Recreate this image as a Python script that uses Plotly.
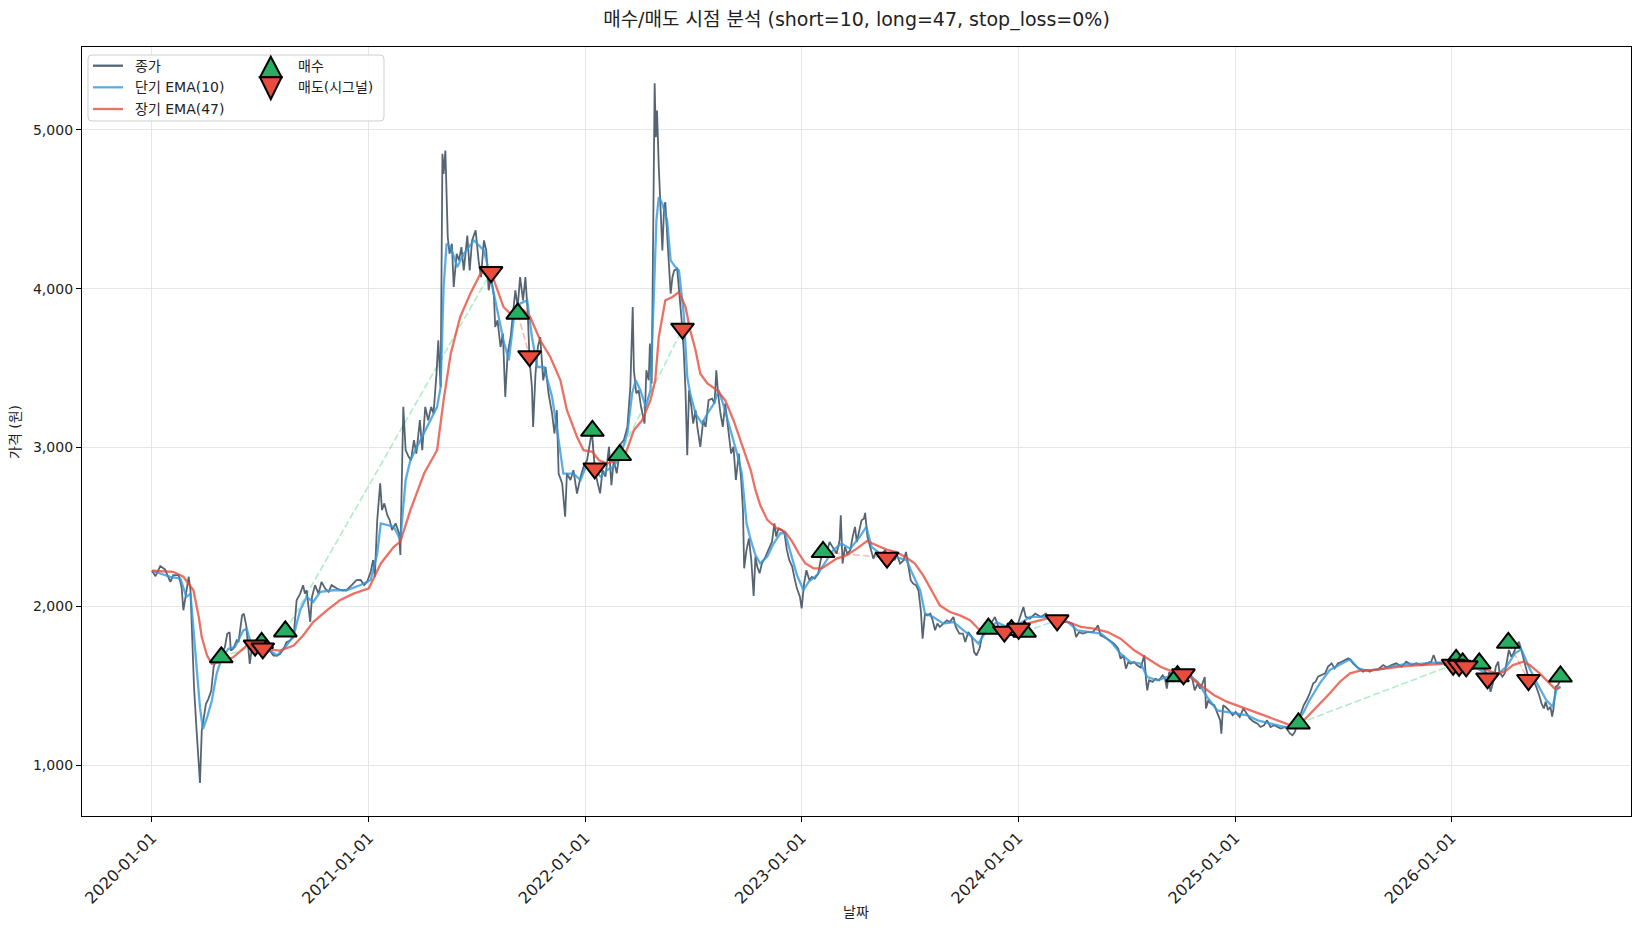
import plotly.graph_objects as go

FONT = "DejaVu Sans, Noto Sans CJK KR, sans-serif"

# ---------------- data ----------------
close_dates = [
    "2020-01-01", "2020-01-07", "2020-01-15", "2020-01-23",
    "2020-02-01", "2020-02-06", "2020-02-15", "2020-02-20", "2020-02-23", "2020-02-28",
    "2020-03-03", "2020-03-06", "2020-03-08", "2020-03-12", "2020-03-16", "2020-03-18", "2020-03-20", "2020-03-22", "2020-03-25", "2020-03-28",
    "2020-04-01", "2020-04-05", "2020-04-10", "2020-04-14", "2020-04-18", "2020-04-25",
    "2020-05-03", "2020-05-07", "2020-05-11", "2020-05-13", "2020-05-17", "2020-05-23", "2020-05-26",
    "2020-06-01", "2020-06-04", "2020-06-08", "2020-06-10", "2020-06-14", "2020-06-17", "2020-06-23",
    "2020-07-01", "2020-07-10", "2020-07-18", "2020-07-24", "2020-07-30",
    "2020-08-04", "2020-08-10", "2020-08-15", "2020-08-21", "2020-08-27",
    "2020-09-01", "2020-09-07", "2020-09-12", "2020-09-15", "2020-09-18", "2020-09-24", "2020-09-27",
    "2020-10-02", "2020-10-08", "2020-10-13", "2020-10-19", "2020-10-25", "2020-10-30",
    "2020-11-08", "2020-11-16", "2020-11-24",
    "2020-12-03", "2020-12-11", "2020-12-18", "2020-12-24", "2020-12-29",
    "2021-01-04", "2021-01-08", "2021-01-11", "2021-01-15", "2021-01-20", "2021-01-23", "2021-01-27",
    "2021-02-01", "2021-02-05", "2021-02-09", "2021-02-15", "2021-02-21", "2021-02-23", "2021-02-28",
    "2021-03-04", "2021-03-09", "2021-03-13", "2021-03-18", "2021-03-22", "2021-03-28",
    "2021-04-01", "2021-04-06", "2021-04-11", "2021-04-16", "2021-04-20", "2021-04-25", "2021-04-28",
    "2021-05-02", "2021-05-05", "2021-05-07", "2021-05-10", "2021-05-14", "2021-05-17", "2021-05-21", "2021-05-24", "2021-05-29",
    "2021-06-02", "2021-06-06", "2021-06-10", "2021-06-16", "2021-06-20", "2021-06-24", "2021-06-30",
    "2021-07-05", "2021-07-09", "2021-07-14", "2021-07-18", "2021-07-22", "2021-07-26", "2021-07-31",
    "2021-08-02", "2021-08-06", "2021-08-11", "2021-08-15", "2021-08-19", "2021-08-23", "2021-08-28",
    "2021-09-01", "2021-09-05", "2021-09-09", "2021-09-13", "2021-09-18", "2021-09-22", "2021-09-26", "2021-09-29",
    "2021-10-03", "2021-10-05", "2021-10-09", "2021-10-13", "2021-10-17", "2021-10-22", "2021-10-26", "2021-10-31",
    "2021-11-06", "2021-11-10", "2021-11-14", "2021-11-17", "2021-11-23", "2021-11-28",
    "2021-12-01", "2021-12-07", "2021-12-12", "2021-12-18", "2021-12-24", "2021-12-29",
    "2022-01-04", "2022-01-12", "2022-01-15", "2022-01-18", "2022-01-26", "2022-01-30",
    "2022-02-04", "2022-02-10", "2022-02-14", "2022-02-18", "2022-02-23",
    "2022-03-02", "2022-03-07", "2022-03-13", "2022-03-18", "2022-03-22", "2022-03-24", "2022-03-28",
    "2022-04-01", "2022-04-05", "2022-04-11", "2022-04-14", "2022-04-18", "2022-04-20", "2022-04-23", "2022-04-26", "2022-04-28", "2022-04-30",
    "2022-05-02", "2022-05-05", "2022-05-08", "2022-05-11", "2022-05-14", "2022-05-16", "2022-05-19", "2022-05-22", "2022-05-25", "2022-05-28", "2022-05-31",
    "2022-06-05", "2022-06-09", "2022-06-13", "2022-06-16", "2022-06-19", "2022-06-22", "2022-06-25", "2022-06-29",
    "2022-07-02", "2022-07-06", "2022-07-09", "2022-07-14", "2022-07-19", "2022-07-23", "2022-07-28",
    "2022-08-03", "2022-08-07", "2022-08-10", "2022-08-13", "2022-08-17", "2022-08-21", "2022-08-25", "2022-08-31",
    "2022-09-04", "2022-09-08", "2022-09-12", "2022-09-17", "2022-09-21", "2022-09-24", "2022-09-26", "2022-09-30",
    "2022-10-04", "2022-10-08", "2022-10-12", "2022-10-15", "2022-10-18", "2022-10-22", "2022-10-26",
    "2022-11-01", "2022-11-06", "2022-11-12", "2022-11-16", "2022-11-19", "2022-11-23", "2022-11-29",
    "2022-12-03", "2022-12-07", "2022-12-11", "2022-12-16", "2022-12-20", "2022-12-24", "2022-12-29",
    "2023-01-01", "2023-01-05", "2023-01-09", "2023-01-14", "2023-01-18", "2023-01-23", "2023-01-29",
    "2023-02-02", "2023-02-07", "2023-02-12", "2023-02-17", "2023-02-22",
    "2023-03-01", "2023-03-06", "2023-03-08", "2023-03-11", "2023-03-15", "2023-03-19", "2023-03-24", "2023-03-28",
    "2023-04-01", "2023-04-04", "2023-04-08", "2023-04-12", "2023-04-16", "2023-04-18", "2023-04-22", "2023-04-26",
    "2023-05-02", "2023-05-06", "2023-05-10", "2023-05-16", "2023-05-22", "2023-05-27",
    "2023-06-02", "2023-06-07", "2023-06-10", "2023-06-16", "2023-06-22", "2023-06-26", "2023-06-30",
    "2023-07-04", "2023-07-08", "2023-07-13", "2023-07-17", "2023-07-21", "2023-07-24", "2023-07-28",
    "2023-08-01", "2023-08-06", "2023-08-10", "2023-08-14", "2023-08-18", "2023-08-22", "2023-08-28",
    "2023-09-03", "2023-09-08", "2023-09-14", "2023-09-18", "2023-09-24", "2023-09-30",
    "2023-10-04", "2023-10-09", "2023-10-15", "2023-10-19", "2023-10-23", "2023-10-28",
    "2023-11-01", "2023-11-06", "2023-11-12", "2023-11-18", "2023-11-23", "2023-11-29",
    "2023-12-04", "2023-12-13", "2023-12-18", "2023-12-24", "2023-12-30",
    "2024-01-10", "2024-01-14", "2024-01-21", "2024-01-30",
    "2024-02-09", "2024-02-17", "2024-02-23",
    "2024-03-02", "2024-03-13", "2024-03-25",
    "2024-04-02", "2024-04-05", "2024-04-08", "2024-04-13", "2024-04-19", "2024-04-27",
    "2024-05-06", "2024-05-11", "2024-05-15", "2024-05-19", "2024-05-25",
    "2024-06-03", "2024-06-11", "2024-06-18", "2024-06-22", "2024-06-27",
    "2024-07-01", "2024-07-05", "2024-07-09", "2024-07-15", "2024-07-20", "2024-07-26",
    "2024-08-01", "2024-08-04", "2024-08-06", "2024-08-09", "2024-08-15", "2024-08-20", "2024-08-26",
    "2024-09-01", "2024-09-05", "2024-09-08", "2024-09-12", "2024-09-17", "2024-09-23",
    "2024-10-01", "2024-10-08", "2024-10-16", "2024-10-21", "2024-10-25", "2024-10-30",
    "2024-11-03", "2024-11-07", "2024-11-11", "2024-11-13", "2024-11-17", "2024-11-21", "2024-11-27",
    "2024-12-02", "2024-12-07", "2024-12-09", "2024-12-12", "2024-12-16", "2024-12-22", "2024-12-28",
    "2025-01-02", "2025-01-09", "2025-01-15", "2025-01-21", "2025-01-26",
    "2025-02-02", "2025-02-08", "2025-02-13", "2025-02-19", "2025-02-24",
    "2025-03-02", "2025-03-08", "2025-03-13", "2025-03-19", "2025-03-27",
    "2025-04-04", "2025-04-08", "2025-04-12", "2025-04-16", "2025-04-22", "2025-04-27",
    "2025-05-02", "2025-05-07", "2025-05-13", "2025-05-17", "2025-05-21", "2025-05-27",
    "2025-06-02", "2025-06-07", "2025-06-13", "2025-06-18", "2025-06-24", "2025-06-30",
    "2025-07-05", "2025-07-11", "2025-07-15", "2025-07-19", "2025-07-25", "2025-07-31",
    "2025-08-05", "2025-08-11", "2025-08-16", "2025-08-22", "2025-08-30",
    "2025-09-08", "2025-09-14", "2025-09-22", "2025-09-30",
    "2025-10-09", "2025-10-17", "2025-10-26",
    "2025-11-03", "2025-11-11", "2025-11-20", "2025-11-28",
    "2025-12-02", "2025-12-07", "2025-12-12", "2025-12-21", "2025-12-29",
    "2026-01-07", "2026-01-15", "2026-01-23",
    "2026-02-01", "2026-02-09", "2026-02-18", "2026-02-26",
    "2026-03-04", "2026-03-08", "2026-03-12", "2026-03-17", "2026-03-21", "2026-03-23", "2026-03-28",
    "2026-04-01", "2026-04-05", "2026-04-08", "2026-04-12", "2026-04-16", "2026-04-20", "2026-04-25", "2026-04-29",
    "2026-05-03", "2026-05-07", "2026-05-12", "2026-05-16", "2026-05-20", "2026-05-24", "2026-05-29",
    "2026-06-02", "2026-06-06", "2026-06-09", "2026-06-13", "2026-06-17", "2026-06-20", "2026-06-22", "2026-06-26", "2026-06-30",
    "2026-07-04",
]
close_values = [
    2224, 2190, 2253, 2232,
    2154, 2196, 2196, 2122, 1975, 2080,
    2186, 2101, 1869, 1489, 1236, 1110, 1025, 888, 1215, 1300,
    1384, 1416, 1468, 1616, 1669, 1679,
    1743, 1827, 1837, 1721, 1732, 1785, 1774,
    1943, 1954, 1880, 1785, 1637, 1721, 1753,
    1721, 1700, 1721, 1690, 1690,
    1700, 1732, 1774, 1785, 1806,
    2038, 2080, 2133, 2080, 2101, 1901, 2059,
    2133, 2080, 2154, 2112, 2091, 2133,
    2112, 2101, 2101,
    2133, 2165, 2166, 2134, 2155,
    2218, 2291, 2187, 2543, 2774, 2606, 2648,
    2574, 2543, 2480, 2522, 2459, 2323, 3256,
    2983, 2941, 2920, 3046, 2962, 3172,
    2983, 3256, 3172, 3256, 3214, 3465, 3675,
    3381, 4849, 4723, 4870, 4325, 4220, 4283, 4011, 4220,
    4178, 4262, 4115, 4335, 4115, 4304, 4367,
    4178, 4073, 4304, 4241, 3990, 4073, 3948,
    3759, 3801, 3633, 3717, 3319, 3591, 3696,
    3843, 3990, 3885, 4073, 3927, 4073, 3843, 3549,
    3381, 3130, 3465, 3633, 3696, 3423, 3507, 3340,
    3214, 3088, 3235, 2836, 2774, 2564,
    2836, 2795, 2857, 2710, 2815, 2878,
    2920, 3100, 2962, 2837, 2711, 2858,
    2816, 3004, 2763, 2920, 2837,
    3025, 3046, 3130, 3382, 3885, 3486, 3340,
    3361, 3256, 3151, 3486, 3423, 3654, 3403, 4388, 5293, 4954,
    5122, 4765, 4535, 4241, 4514, 4545, 4346, 4178, 3969, 4073, 4115,
    4126, 3969, 3780, 3612, 3361, 2952, 3361, 3256,
    3151, 3235, 3130, 3004, 3172, 3130, 3298,
    3308, 3277, 3486, 3340, 3214, 3130, 3277, 3067,
    2962, 3004, 2795, 2962, 2795, 2600, 2239, 2355,
    2428, 2292, 2065, 2313, 2250, 2208, 2271,
    2313, 2355, 2407, 2523, 2439, 2491, 2481,
    2460, 2355, 2292, 2250, 2176, 2113, 2061,
    1987, 2143, 2227, 2164, 2185, 2174, 2206,
    2290, 2363, 2332, 2405, 2374,
    2332, 2416, 2573, 2269, 2374, 2332, 2353, 2437,
    2500, 2405, 2479, 2542, 2552, 2588, 2437, 2374,
    2300, 2342, 2321, 2332, 2353, 2300,
    2332, 2290, 2332, 2269, 2290, 2342, 2248,
    2164, 2143, 2132, 2101, 1975, 1796, 1954,
    1943, 1954, 1912, 1849, 1891, 1870, 1891,
    1912, 1901, 1933, 1870, 1828, 1828,
    1775, 1838, 1807, 1712, 1691, 1733,
    1807, 1849, 1880, 1901, 1933, 1870,
    1849, 1870, 1849, 1880, 1870,
    1996, 1933, 1922, 1954,
    1933, 1954, 1922,
    1912, 1901, 1901,
    1891, 1859, 1807, 1838, 1828, 1838,
    1838, 1859, 1880, 1817, 1807,
    1786, 1765, 1733, 1670, 1691,
    1607, 1649, 1639, 1649, 1628, 1614,
    1691, 1534, 1471, 1534, 1524, 1544, 1534,
    1566, 1544, 1482, 1586, 1566, 1555,
    1586, 1566, 1597, 1544, 1471, 1513,
    1482, 1513, 1555, 1356, 1408, 1387, 1377,
    1324, 1282, 1198, 1377, 1366, 1345, 1314,
    1335, 1303, 1356, 1324, 1293,
    1272, 1261, 1240, 1251, 1282,
    1240, 1251, 1240, 1230, 1240,
    1198, 1188, 1209, 1261, 1324, 1377,
    1410, 1452, 1515, 1525, 1557, 1567,
    1578, 1620, 1641, 1609, 1641, 1651,
    1662, 1672, 1662, 1641, 1620, 1599,
    1588, 1599, 1588, 1599, 1603,
    1630, 1616, 1630, 1641,
    1620, 1651, 1630,
    1641, 1630, 1641, 1651,
    1693, 1641, 1645, 1641, 1645,
    1641, 1630, 1620,
    1609, 1630, 1641, 1599,
    1557, 1462, 1515, 1620, 1651, 1588, 1557,
    1578, 1662, 1725, 1683, 1704, 1746, 1777, 1725,
    1662, 1609, 1536, 1557, 1525, 1494, 1441,
    1389, 1357, 1399, 1347, 1368, 1305, 1347, 1494, 1504,
    1540,
]

ema_short_dates = [
    "2020-01-01", "2020-02-01", "2020-02-18", "2020-02-28", "2020-03-06", "2020-03-11", "2020-03-17", "2020-03-22", "2020-03-27",
    "2020-04-03", "2020-04-11", "2020-04-19", "2020-04-28", "2020-05-09", "2020-05-20", "2020-06-03", "2020-06-09", "2020-06-17",
    "2020-06-29", "2020-07-18", "2020-07-30", "2020-08-15", "2020-08-27", "2020-09-07", "2020-09-18", "2020-09-29", "2020-10-11",
    "2020-11-02", "2020-11-24", "2020-12-18",
    "2021-01-04", "2021-01-15", "2021-01-21", "2021-02-12", "2021-02-23", "2021-03-04", "2021-03-12", "2021-03-29", "2021-04-09",
    "2021-04-26", "2021-05-02", "2021-05-07", "2021-05-12", "2021-05-19", "2021-05-30", "2021-06-10", "2021-06-27", "2021-07-14",
    "2021-07-25", "2021-08-05", "2021-08-16", "2021-08-25", "2021-09-02", "2021-09-13", "2021-09-25", "2021-10-03", "2021-10-12",
    "2021-10-23", "2021-11-06", "2021-11-17", "2021-11-25", "2021-12-12", "2021-12-24",
    "2022-01-04", "2022-01-15", "2022-01-27", "2022-02-07", "2022-02-18", "2022-03-02", "2022-03-13", "2022-03-21", "2022-03-27",
    "2022-04-04", "2022-04-13", "2022-04-21", "2022-04-27", "2022-05-01", "2022-05-05", "2022-05-11", "2022-05-19", "2022-05-25",
    "2022-06-02", "2022-06-08", "2022-06-16", "2022-06-22", "2022-06-27", "2022-07-06", "2022-07-17", "2022-07-26", "2022-08-06",
    "2022-08-14", "2022-08-23", "2022-09-03", "2022-09-14", "2022-09-22", "2022-09-30", "2022-10-07", "2022-10-15", "2022-10-23",
    "2022-11-04", "2022-11-15", "2022-11-26", "2022-12-04", "2022-12-13", "2022-12-24",
    "2023-01-04", "2023-01-13", "2023-01-27", "2023-02-07", "2023-02-23", "2023-03-09", "2023-03-24", "2023-04-09", "2023-04-20",
    "2023-04-29", "2023-05-13", "2023-05-30", "2023-06-16", "2023-06-27", "2023-07-08", "2023-07-20", "2023-07-28", "2023-08-11",
    "2023-08-28", "2023-09-14", "2023-10-01", "2023-10-15", "2023-10-26", "2023-11-09", "2023-11-26", "2023-12-13",
    "2024-01-04", "2024-01-21", "2024-02-18", "2024-03-02", "2024-03-25", "2024-04-10", "2024-05-03", "2024-05-20", "2024-06-06",
    "2024-06-22", "2024-07-09", "2024-07-26", "2024-08-06", "2024-08-23", "2024-09-09", "2024-09-26", "2024-10-13", "2024-10-30",
    "2024-11-15", "2024-12-02", "2024-12-19",
    "2025-01-05", "2025-01-22", "2025-02-08", "2025-03-02", "2025-03-25", "2025-04-10", "2025-04-27", "2025-05-07", "2025-05-24",
    "2025-06-10", "2025-06-27", "2025-07-14", "2025-07-28", "2025-08-11", "2025-09-02", "2025-09-25", "2025-10-17", "2025-11-09",
    "2025-12-01", "2025-12-24",
    "2026-01-15", "2026-02-06", "2026-03-01", "2026-03-18", "2026-04-04", "2026-04-18", "2026-04-29", "2026-05-13", "2026-05-27",
    "2026-06-10", "2026-06-21", "2026-06-27", "2026-07-04",
]
ema_short_values = [
    2224, 2186, 2175, 2059, 2080, 1869, 1595, 1363, 1226,
    1300, 1405, 1574, 1679, 1732, 1743, 1848, 1858, 1753,
    1732, 1721, 1690, 1753, 1816, 1975, 2059, 2027, 2091,
    2101, 2101, 2134,
    2166, 2333, 2522, 2501, 2417, 2795, 2920, 3046, 3130,
    3256, 3381, 4011, 4283, 4262, 4136, 4220, 4304, 4241,
    4073, 3864, 3675, 3549, 3801, 3906, 3927, 3696, 3507,
    3507, 3319, 3046, 2836, 2836, 2795,
    2899, 2857, 2816, 2858, 2878, 2962, 3088, 3340, 3423,
    3361, 3256, 3361, 3969, 4430, 4577, 4535, 4430, 4178,
    4136, 4115, 3843, 3444, 3340, 3214, 3151, 3214, 3277,
    3361, 3256, 3109, 2962, 2837, 2523, 2418, 2323, 2271,
    2313, 2397, 2460, 2460, 2334, 2197,
    2103, 2155, 2197, 2260, 2353, 2395, 2363, 2437, 2500,
    2374, 2332, 2321, 2300, 2290, 2195, 2101, 1954, 1933,
    1891, 1901, 1849, 1807, 1765, 1849, 1901, 1870,
    1891, 1933, 1933, 1922, 1901, 1849, 1838, 1828, 1775,
    1702, 1649, 1639, 1555, 1534, 1555, 1566, 1576, 1524,
    1429, 1345, 1335,
    1324, 1314, 1282, 1261, 1240, 1240, 1335, 1410, 1515,
    1599, 1630, 1666, 1609, 1595, 1603, 1624, 1637, 1637,
    1645, 1645,
    1637, 1624, 1578, 1567, 1620, 1704, 1729, 1609, 1504,
    1410, 1368, 1473, 1494,
]

ema_long_dates = [
    "2020-01-01", "2020-02-06", "2020-02-23", "2020-03-11", "2020-03-20", "2020-03-25", "2020-04-03", "2020-04-11", "2020-04-25",
    "2020-05-17", "2020-06-09", "2020-06-20", "2020-07-07", "2020-08-04", "2020-08-27", "2020-09-12", "2020-09-29", "2020-10-22",
    "2020-11-13", "2020-12-06",
    "2021-01-01", "2021-01-21", "2021-02-12", "2021-02-23", "2021-03-12", "2021-04-04", "2021-04-26", "2021-05-07", "2021-05-19",
    "2021-06-04", "2021-06-21", "2021-07-08", "2021-07-19", "2021-07-31", "2021-08-16", "2021-09-02", "2021-09-19", "2021-09-30",
    "2021-10-17", "2021-11-03", "2021-11-20", "2021-12-01", "2021-12-18", "2021-12-29",
    "2022-01-13", "2022-01-24", "2022-02-07", "2022-02-24", "2022-03-10", "2022-03-24", "2022-04-07", "2022-04-21", "2022-04-29",
    "2022-05-05", "2022-05-16", "2022-05-28", "2022-06-08", "2022-06-19", "2022-06-27", "2022-07-06", "2022-07-14", "2022-07-26",
    "2022-08-11", "2022-08-25", "2022-09-08", "2022-09-22", "2022-10-07", "2022-10-15", "2022-10-23", "2022-11-04", "2022-11-20",
    "2022-12-04", "2022-12-16", "2022-12-27",
    "2023-01-07", "2023-01-21", "2023-02-04", "2023-02-12", "2023-03-01", "2023-03-18", "2023-04-04", "2023-04-21", "2023-05-08",
    "2023-05-24", "2023-06-10", "2023-06-27", "2023-07-11", "2023-07-25", "2023-08-08", "2023-08-22", "2023-09-08", "2023-09-25",
    "2023-10-12", "2023-10-26", "2023-11-15", "2023-12-07", "2023-12-30",
    "2024-01-21", "2024-02-18", "2024-03-02", "2024-03-25", "2024-04-16", "2024-05-08", "2024-05-31", "2024-06-22", "2024-07-15",
    "2024-08-06", "2024-08-29", "2024-09-20", "2024-10-13", "2024-11-04", "2024-11-27", "2024-12-19",
    "2025-01-11", "2025-02-02", "2025-02-24", "2025-03-19", "2025-04-05", "2025-04-19", "2025-05-07", "2025-05-24", "2025-06-10",
    "2025-06-27", "2025-07-14", "2025-07-31", "2025-08-22", "2025-09-14", "2025-10-06", "2025-10-28", "2025-11-20", "2025-12-12",
    "2026-01-01", "2026-01-21", "2026-02-06", "2026-03-01", "2026-03-18", "2026-04-01", "2026-04-15", "2026-05-02", "2026-05-13",
    "2026-05-30", "2026-06-13", "2026-06-24", "2026-07-04",
]
ema_long_values = [
    2224, 2217, 2186, 2101, 1932, 1806, 1690, 1637, 1648,
    1679, 1753, 1774, 1732, 1721, 1753, 1816, 1901, 1975,
    2038, 2080,
    2113, 2270, 2375, 2407, 2606, 2836, 2983, 3298, 3591,
    3822, 3969, 4094, 4115, 4052, 3885, 3822, 3864, 3822,
    3675, 3570, 3423, 3235, 3067, 2983,
    2973, 2920, 2899, 2920, 2962, 3109, 3172, 3298, 3423,
    3696, 3927, 3948, 3979, 3885, 3738, 3612, 3465, 3403,
    3361, 3298, 3172, 3025, 2858, 2733, 2638, 2544, 2491,
    2470, 2407, 2334,
    2271, 2239, 2239, 2258, 2300, 2321, 2363, 2411, 2384,
    2357, 2342, 2306, 2269, 2195, 2101, 2006, 1964, 1943,
    1912, 1859, 1849, 1859, 1870,
    1895, 1922, 1922, 1901, 1870, 1859, 1838, 1796, 1723,
    1670, 1618, 1586, 1566, 1503, 1440, 1398,
    1366, 1335, 1303, 1272, 1251, 1251, 1320, 1389, 1452,
    1525, 1578, 1595, 1599, 1609, 1620, 1626, 1630, 1637,
    1641, 1637, 1630, 1599, 1578, 1588, 1630, 1651, 1630,
    1578, 1525, 1483, 1490,
]

buy_dates = ["2020-04-27", "2020-07-04", "2020-08-13", "2021-09-09", "2022-01-13", "2022-02-28",
             "2023-02-06", "2023-11-12", "2023-12-21", "2024-01-12", "2024-09-26", "2025-04-18",
             "2026-01-09", "2026-01-20", "2026-02-17", "2026-04-07", "2026-07-04"]
buy_prices = [1679, 1769, 1842, 3843, 3105, 2952,
              2342, 1859, 1850, 1840, 1560, 1262,
              1662, 1640, 1640, 1770, 1558]
sell_dates = ["2020-06-23", "2020-07-06", "2021-07-26", "2021-09-29", "2022-01-17", "2022-06-14",
              "2023-05-25", "2023-12-09", "2024-01-02", "2024-03-07", "2024-10-06", "2026-01-04",
              "2026-01-14", "2026-01-26", "2026-03-03", "2026-05-11"]
sell_prices = [1753, 1735, 4105, 3575, 2868, 3748,
               2306, 1840, 1858, 1912, 1572, 1632,
               1625, 1622, 1546, 1536]

year_ticks = ["2020-01-01", "2021-01-01", "2022-01-01", "2023-01-01",
              "2024-01-01", "2025-01-01", "2026-01-01"]
price_ticks = [1000, 2000, 3000, 4000, 5000]

assert len(close_dates) == len(close_values)
assert len(ema_short_dates) == len(ema_short_values)
assert len(ema_long_dates) == len(ema_long_values)

# ---------------- layout geometry ----------------
W, H = 1641, 930
ML, MR, MT, MB = 82, 10, 47, 114
PW = W - ML - MR
PH = H - MT - MB


def px(x):
    return (x - ML) / PW


def py(y):
    return (MT + PH - y) / PH


fig = go.Figure()

# trade connection lines (buy -> following sell)
win_x, win_y, loss_x, loss_y = [], [], [], []
for i in range(len(sell_dates)):
    seg_x = [buy_dates[i], sell_dates[i], None]
    seg_y = [buy_prices[i], sell_prices[i], None]
    if sell_prices[i] >= buy_prices[i]:
        win_x += seg_x
        win_y += seg_y
    else:
        loss_x += seg_x
        loss_y += seg_y

fig.add_trace(go.Scatter(x=win_x, y=win_y, mode="lines", showlegend=False, hoverinfo="skip",
                         line=dict(color="rgba(46,204,113,0.38)", width=1.6, dash="7px,3px")))
fig.add_trace(go.Scatter(x=loss_x, y=loss_y, mode="lines", showlegend=False, hoverinfo="skip",
                         line=dict(color="rgba(231,76,60,0.38)", width=1.6, dash="7px,3px")))

fig.add_trace(go.Scatter(x=close_dates, y=close_values, mode="lines", name="종가",
                         line=dict(color="rgba(44,62,80,0.8)", width=1.8)))
fig.add_trace(go.Scatter(x=ema_short_dates, y=ema_short_values, mode="lines", name="단기 EMA(10)",
                         line=dict(color="rgba(52,152,219,0.8)", width=2.3)))
fig.add_trace(go.Scatter(x=ema_long_dates, y=ema_long_values, mode="lines", name="장기 EMA(47)",
                         line=dict(color="rgba(231,76,60,0.8)", width=2.3)))

fig.add_trace(go.Scatter(x=buy_dates, y=buy_prices, mode="markers", name="매수",
                         marker=dict(symbol="triangle-up", size=20, color="#27ae60",
                                     line=dict(color="black", width=2))))
fig.add_trace(go.Scatter(x=sell_dates, y=sell_prices, mode="markers", name="매도(시그널)",
                         marker=dict(symbol="triangle-down", size=20, color="#e74c3c",
                                     line=dict(color="black", width=2))))

# ---------------- manual legend (two columns like the reference) ----------------
shapes = []
annotations = []

bx0, bx1, by0, by1 = 88, 384, 55, 121
r = 4
rx, ry = r / PW, r / PH
X0, X1, Y0, Y1 = px(bx0), px(bx1), py(by0), py(by1)  # Y0 is top
path = (f"M {X0+rx},{Y0} L {X1-rx},{Y0} Q {X1},{Y0} {X1},{Y0-ry} "
        f"L {X1},{Y1+ry} Q {X1},{Y1} {X1-rx},{Y1} L {X0+rx},{Y1} Q {X0},{Y1} {X0},{Y1+ry} "
        f"L {X0},{Y0-ry} Q {X0},{Y0} {X0+rx},{Y0} Z")
shapes.append(dict(type="path", xref="paper", yref="paper", path=path, layer="above",
                   fillcolor="rgba(255,255,255,0.85)", line=dict(color="#cfcfcf", width=1)))

legend_lines = [("종가", "rgba(44,62,80,0.8)", 65.7),
                ("단기 EMA(10)", "rgba(52,152,219,0.8)", 87.3),
                ("장기 EMA(47)", "rgba(231,76,60,0.8)", 109.0)]
for label, col, yy in legend_lines:
    shapes.append(dict(type="line", xref="paper", yref="paper", layer="above",
                       x0=px(93), x1=px(123), y0=py(yy), y1=py(yy),
                       line=dict(color=col, width=2.3)))
    annotations.append(dict(xref="paper", yref="paper", x=px(133), y=py(yy), text=label,
                            showarrow=False, xanchor="left", yanchor="middle",
                            font=dict(family=FONT, size=14, color="#222")))

cx, hw = 270.8, 10.8
up = (f"M {px(cx)},{py(56.7)} L {px(cx+hw)},{py(77.3)} L {px(cx-hw)},{py(77.3)} Z")
down = (f"M {px(cx-hw)},{py(77.3)} L {px(cx+hw)},{py(77.3)} L {px(cx)},{py(99.3)} Z")
shapes.append(dict(type="path", xref="paper", yref="paper", path=up, layer="above",
                   fillcolor="#27ae60", line=dict(color="black", width=2)))
shapes.append(dict(type="path", xref="paper", yref="paper", path=down, layer="above",
                   fillcolor="#e74c3c", line=dict(color="black", width=2)))
for label, yy in [("매수", 65.7), ("매도(시그널)", 87.3)]:
    annotations.append(dict(xref="paper", yref="paper", x=px(296), y=py(yy), text=label,
                            showarrow=False, xanchor="left", yanchor="middle",
                            font=dict(family=FONT, size=14, color="#222")))

# axis titles
annotations.append(dict(xref="paper", yref="paper", x=px(856), y=py(912), text="날짜",
                        showarrow=False, xanchor="center", yanchor="middle",
                        font=dict(family=FONT, size=14, color="#222")))
annotations.append(dict(xref="paper", yref="paper", x=px(15), y=py(432), text="가격 (원)",
                        showarrow=False, xanchor="center", yanchor="middle", textangle=-90,
                        font=dict(family=FONT, size=14, color="#222")))

fig.update_layout(
    width=W, height=H,
    margin=dict(l=ML, r=MR, t=MT, b=MB),
    paper_bgcolor="white", plot_bgcolor="white",
    showlegend=False,
    font=dict(family=FONT, size=14, color="#222"),
    title=dict(text="매수/매도 시점 분석 (short=10, long=47, stop_loss=0%)",
               x=0.5, xref="paper", xanchor="center",
               y=1 - 19 / H, yref="container", yanchor="middle",
               font=dict(family=FONT, size=19, color="#222")),
    shapes=shapes,
    annotations=annotations,
    xaxis=dict(type="date", range=["2019-09-05", "2026-10-31"],
               tickmode="array", tickvals=year_ticks, ticktext=year_ticks, tickangle=-45,
               showline=True, mirror=True, linecolor="black", linewidth=1.3,
               ticks="outside", ticklen=5, tickcolor="black", tickwidth=1,
               showgrid=True, gridcolor="#e6e6e6", gridwidth=1, zeroline=False,
               tickfont=dict(family=FONT, size=16, color="#222")),
    yaxis=dict(range=[679.5, 5522],
               tickmode="array", tickvals=price_ticks,
               ticktext=[f"{v:,}" for v in price_ticks],
               showline=True, mirror=True, linecolor="black", linewidth=1.3,
               ticks="outside", ticklen=5, tickcolor="black", tickwidth=1,
               showgrid=True, gridcolor="#e6e6e6", gridwidth=1, zeroline=False,
               tickfont=dict(family=FONT, size=14, color="#222")),
)

fig.write_html("out.html")
